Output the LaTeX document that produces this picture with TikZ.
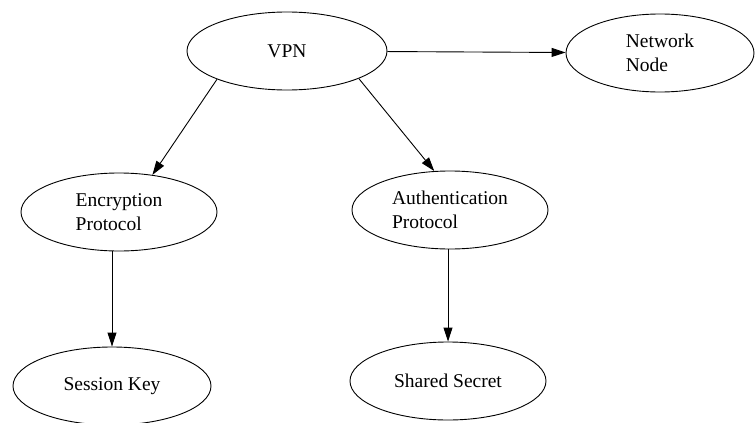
\documentclass[tikz,border=0pt]{standalone}
\usepackage{fontspec}
\setmainfont{Liberation Serif}
\usetikzlibrary{shapes.geometric, arrows.meta}

\begin{document}
\begin{tikzpicture}[x=1pt, y=-1pt,
  oval/.style = {ellipse, draw, line width=0.9pt, minimum width=196pt, minimum height=78pt, inner sep=0pt, align=left, font=\fontsize{19.5}{23.5}\selectfont},
  edge/.style = {-{Triangle[length=14pt, width=9pt]}, line width=0.9pt}]
\useasboundingbox (0,0) rectangle (755,423);
\node [oval, minimum width=200pt] (vpn) at (287,51) {VPN};
\node [oval, minimum width=188pt] (nn) at (660,53) {Network\\Node};
\node [oval] (enc) at (119,212) {Encryption\\Protocol};
\node [oval] (auth) at (450,210) {Authentication\\Protocol};
\node [oval, minimum width=198pt] (sk) at (112,386) {Session Key};
\node [oval] (ss) at (448,381) {Shared Secret};
\draw [edge] (vpn) -- (nn);
\draw [edge] (vpn.202) -- (enc.48);
\draw [edge] (vpn.339) -- (auth.112);
\draw [edge] (sk.north |- enc.south) -- (sk.north);
\draw [edge] (ss.north |- auth.south) -- (ss.north);
\end{tikzpicture}
\end{document}
